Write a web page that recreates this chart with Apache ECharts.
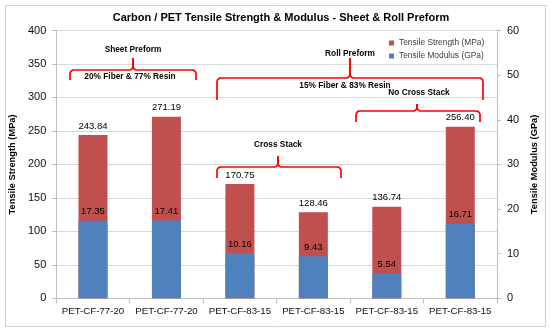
<!DOCTYPE html>
<html><head><meta charset="utf-8">
<script src="https://cdn.jsdelivr.net/npm/echarts@6/dist/echarts.min.js"></script>
<style>html,body{margin:0;padding:0;background:#fff}#c{width:550px;height:333px}</style>
</head><body><div id="c"></div>
<script>
var categories = ['PET-CF-77-20','PET-CF-77-20','PET-CF-83-15','PET-CF-83-15','PET-CF-83-15','PET-CF-83-15'];
var strength = [243.84, 271.19, 170.75, 128.46, 136.74, 256.40];
var modulus = [17.35, 17.41, 10.16, 9.43, 5.54, 16.71];
var seriesNames = ['Tensile Strength (MPa)', 'Tensile Modulus (GPa)'];

function arcPts(cx, cy, r, a0, a1) {
  var pts = [];
  for (var i = 0; i <= 6; i++) {
    var a = a0 + (a1 - a0) * i / 6;
    pts.push([cx + r * Math.cos(a), cy + r * Math.sin(a)]);
  }
  return pts;
}
function bracePath(x1, x2, xm, y, yb, yt) {
  var r = 4, P = Math.PI;
  var left = [[x1, yb]].concat(arcPts(x1 + r, y + r, r, P, 1.5 * P), arcPts(xm - r, y - r, r, 0.5 * P, 0), [[xm, yt]]);
  var right = [[x2, yb]].concat(arcPts(x2 - r, y + r, r, 0, -0.5 * P), arcPts(xm + r, y - r, r, 0.5 * P, P), [[xm, yt]]);
  var st = { fill: null, stroke: '#ff0000', lineWidth: 1.7 };
  return [
    { type: 'polyline', shape: { points: left }, style: st, z: 100 },
    { type: 'polyline', shape: { points: right }, style: st, z: 100 }
  ];
}
function txt(x, y, t) {
  return { type: 'text', x: x, y: y, style: { text: t, fill: '#000', font: 'bold 8.3px "Liberation Sans", Arial', textAlign: 'center', textVerticalAlign: 'middle' }, z: 100 };
}
var font = '"Liberation Sans", Arial, sans-serif';
var chart = echarts.init(document.getElementById('c'));
var graphics = [
  { type: 'rect', shape: { x: 5.5, y: 5.5, width: 540, height: 321 }, style: { fill: null, stroke: '#d0d0d0', lineWidth: 1 }, z: -1 },
  txt(133, 50, 'Sheet Preform'), txt(130, 77, '20% Fiber & 77% Resin'),
  txt(350, 54, 'Roll Preform'), txt(345, 86, '15% Fiber & 83% Resin'),
  txt(419, 93, 'No Cross Stack'), txt(278, 145, 'Cross Stack')
].concat(
  bracePath(70, 196, 133, 70, 80, 58),
  bracePath(217, 483, 350, 78, 100, 58),
  bracePath(356, 480, 417, 111, 122, 104),
  bracePath(217, 341, 278, 167, 178, 156)
);
var lbl = function (p) { return p.value.toFixed(2); };
chart.setOption({
  animation: false,
  textStyle: { fontFamily: font },
  title: { text: 'Carbon / PET Tensile Strength & Modulus - Sheet & Roll Preform', left: 276, top: 7, textAlign: 'center',
    textStyle: { fontSize: 11, fontWeight: 'bold', color: '#000', fontFamily: font } },
  legend: { orient: 'vertical', left: 384, top: 33, itemWidth: 5, itemHeight: 5, itemGap: 3, icon: 'rect',
    data: seriesNames, textStyle: { fontSize: 8.4, lineHeight: 10, color: '#404040', fontFamily: font } },
  grid: { left: 56, right: 53, top: 30.5, bottom: 34.7 },
  xAxis: { type: 'category', data: categories,
    axisLine: { lineStyle: { color: '#bfbfbf' } }, axisTick: { show: true, lineStyle: { color: '#bfbfbf' } },
    axisLabel: { color: '#111', fontSize: 9.7, interval: 0, margin: 8 } },
  yAxis: [
    { type: 'value', min: 0, max: 400, interval: 50, name: 'Tensile Strength (MPa)', nameLocation: 'middle', nameGap: 29,
      nameTextStyle: { fontWeight: 'bold', fontSize: 9.3, color: '#000' },
      axisLine: { show: true, lineStyle: { color: '#bfbfbf' } }, axisTick: { show: true, length: 4, lineStyle: { color: '#bfbfbf' } },
      axisLabel: { color: '#111', fontSize: 11, margin: 10 }, splitLine: { lineStyle: { color: '#d9d9d9' } } },
    { type: 'value', min: 0, max: 60, interval: 10, name: 'Tensile Modulus (GPa)', nameLocation: 'middle', nameGap: 27,
      nameTextStyle: { fontWeight: 'bold', fontSize: 9.3, color: '#000' },
      axisLine: { show: true, lineStyle: { color: '#bfbfbf' } }, axisTick: { show: true, length: 4, lineStyle: { color: '#bfbfbf' } },
      axisLabel: { color: '#111', fontSize: 11, margin: 10 }, splitLine: { show: false } }
  ],
  series: [
    { name: seriesNames[0], type: 'bar', data: strength, yAxisIndex: 0, barWidth: 29, barGap: '-100%',
      itemStyle: { color: '#C0504D' },
      label: { show: true, position: 'top', color: '#000', fontSize: 9.5, distance: 4, formatter: lbl } },
    { name: seriesNames[1], type: 'bar', data: modulus, yAxisIndex: 1, barWidth: 29, barGap: '-100%',
      itemStyle: { color: '#4F81BD' },
      label: { show: true, position: 'top', color: '#000', fontSize: 9.5, distance: 4, formatter: lbl } }
  ],
  graphic: graphics
});
</script></body></html>
